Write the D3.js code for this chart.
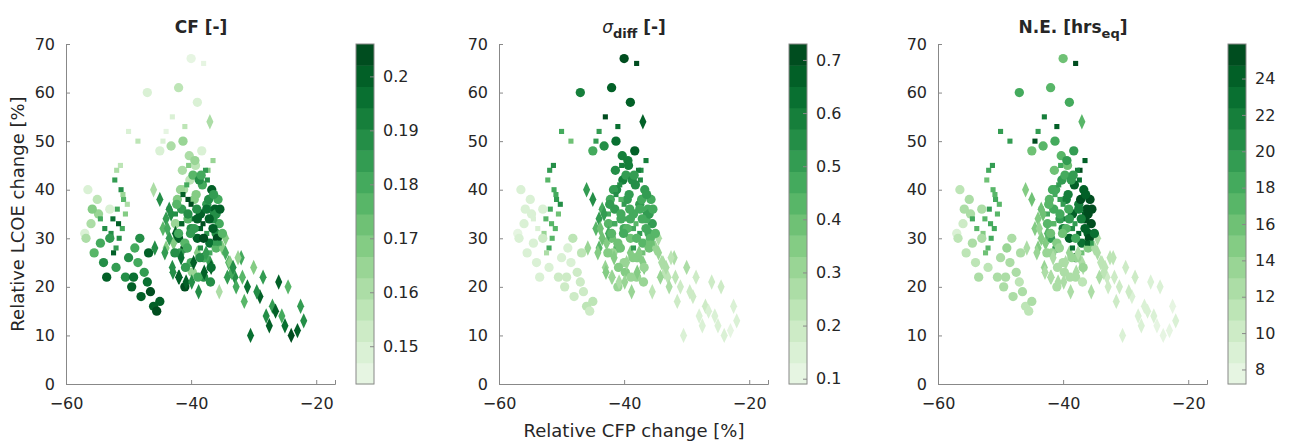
<!DOCTYPE html>
<html>
<head>
<meta charset="utf-8">
<script src="https://cdn.jsdelivr.net/npm/d3@7"></script>
<style>
  body { margin: 0; background: #fff; }
  text { font-family: "DejaVu Sans", sans-serif; fill: #262626; }
</style>
</head>
<body>
<div id="chart"></div>
<script>
// relative CFP change [%], relative LCOE change [%], marker, and the three colour variables
const relCfp = [
  -52,-51.5,-51,-52.5,-51.8,-50.8,-51.2,-52.2,-50.5,-51.6,-52.8,-50.2,-51.9,-50.9,-52.4,-51.3,
  -57,-56,-55.5,-54.5,-54,-53.5,-53,-52,-50.5,-49.5,-48.5,-48,-47,-46.5,-46,-45.5,-45,-47.5,-49,-50,-55,-53,-56.5,-54.8,
  -42,-41,-40,-39,-38,-37,-36,-35.5,-41.5,-40.5,-39.5,-38.5,-37.5,-36.5,-42.5,-41.2,-40.2,-39.2,-38.2,-37.2,-36.2,-35.8,
  -43,-42,-41,-40,-39,-38,-37,-36,-40.8,-39.8,-38.8,-37.8,-36.8,-41.8,-42.8,-39.3,-38.3,-37.3,-40.3,-41.3,
  -43.5,-42.5,-41.5,-40.5,-39.5,-38.5,-37.5,-36.6,
  -47,-44,-43,-42,-40,-39,-38,-37,-45,-41,-36.5,-44.5,-43.2,-48.5,-50,
  -45,-44,-43.5,-42.5,-44.5,-46,
  -35,-34,-33,-32,-31,-30,-29,-28,-27,-26,-25,-24,-23,-22,-33.5,-31.5,-29.5,-27.5,-25.5,-30.5,-28.5,-26.5,-32.5,-34.5,-35.5,-24.5,-22.5,
  -42,-41.5,-41,-40.5,-40,-39.5,-39,-38.5,-38,-37.5,-37,-36.5,-36,-35.5,-35,
  -42.2,-41.7,-40.7,-39.7,-38.7,-37.7,-36.7,-35.7,-41.4,-40.4,-39.4,-38.4,-37.4,-36.4,-35.4,
  -43.5,-42.6,-41.6,-40.6,-39.6,-38.6,-37.6,-36.8,-42.9,-41.9,-40.9,-39.9,-38.9,-37.9,-36.9,
  -44,-43.2,-42.3,-41.3,-40.1,-39.1,-38.1,-37.1,-36.1,-34.5,-33.8,-34.2,-33.3,-32.8,-31.8,
  -54.5,-53.8,-55.8,-56.8,-48.2,-46.8,-45.8,-44.2,-43.8,-49.2
];
const relLcoe = [
  28,30,32,34,36,38,40,42,35,33,31,37,44,39,27,45,
  31,33,27,29,25,22,36,24,22,20,25,18,21,19,16,15,17,23,28,26,38,30,40,35,
  30,28,32,30,26,29,31,33,36,34,38,35,37,34,33,40,42,39,41,38,36,30,
  24,22,20,25,27,22,25,28,21,23,19,26,24,27,29,45,48,44,47,50,
  36,35,33,38,34,32,31,35,
  60,52,55,61,67,58,66,54,48,53,46,50,49,50,52,
  38,34,36,31,32,40,
  28,25,22,26,20,24,18,14,16,21,12,10,11,13,23,17,19,12,14,10,22,15,26,30,19,20,16,
  31,33,29,35,37,32,34,28,30,36,27,32,35,29,31,
  38,40,41,43,42,44,40,38,44,45,46,43,42,39,36,
  30,27,26,28,25,26,27,24,23,22,24,21,22,23,21,
  28,35,37,39,31,36,33,34,29,27,25,22,24,20,22,
  34,32,36,30,30,27,28,27,32,22
];
const markerShape = [
  "s","s","s","s","s","s","s","s","s","s","s","s","s","s","s","s",
  "c","c","c","c","c","c","c","c","c","c","c","c","c","c","c","c","c","c","c","c","c","c","c","c",
  "c","c","c","c","c","c","c","c","c","c","c","c","c","c","c","c","c","c","c","c","c","c",
  "d","d","c","c","d","c","d","c","d","c","d","c","d","c","d","c","c","s","c","c",
  "s","s","s","s","s","s","s","s",
  "c","s","s","c","c","c","s","d","c","s","s","s","c","s","s",
  "d","d","d","d","d","d",
  "d","d","d","d","d","d","d","d","d","d","d","d","d","d","d","d","d","d","d","d","d","d","d","d","d","d","d",
  "c","s","c","c","s","c","c","s","c","c","s","c","c","s","c",
  "c","c","s","c","c","s","c","c","c","s","c","c","s","c","c",
  "d","c","d","c","d","c","d","c","d","d","c","d","c","d","c",
  "d","d","c","s","c","c","s","c","s","d","d","d","d","d","d",
  "s","s","c","c","c","c","d","d","d","c"
];
const cfValues = [
  0.185,0.19,0.18,0.195,0.18,0.175,0.19,0.185,0.17,0.2,0.19,0.16,0.16,0.165,0.2,0.155,
  0.15,0.16,0.175,0.18,0.19,0.2,0.15,0.185,0.19,0.2,0.18,0.2,0.195,0.205,0.2,0.205,0.2,0.185,0.18,0.19,0.155,0.185,0.15,0.165,
  0.2,0.205,0.19,0.2,0.205,0.195,0.19,0.18,0.185,0.175,0.17,0.2,0.185,0.19,0.165,0.16,0.155,0.17,0.18,0.19,0.2,0.205,
  0.19,0.2,0.205,0.18,0.17,0.19,0.185,0.175,0.2,0.165,0.19,0.18,0.2,0.185,0.17,0.155,0.15,0.17,0.16,0.165,
  0.2,0.19,0.18,0.205,0.195,0.2,0.185,0.19,
  0.15,0.145,0.15,0.155,0.145,0.15,0.145,0.16,0.15,0.155,0.165,0.15,0.16,0.155,0.15,
  0.19,0.185,0.19,0.2,0.175,0.16,
  0.17,0.175,0.19,0.18,0.195,0.17,0.2,0.19,0.185,0.2,0.195,0.205,0.2,0.19,0.18,0.175,0.19,0.2,0.18,0.195,0.185,0.2,0.165,0.17,0.16,0.175,0.185,
  0.18,0.2,0.175,0.19,0.205,0.185,0.2,0.19,0.205,0.195,0.18,0.2,0.19,0.185,0.175,
  0.17,0.165,0.18,0.175,0.19,0.185,0.2,0.18,0.16,0.17,0.165,0.18,0.19,0.185,0.2,
  0.185,0.19,0.195,0.18,0.2,0.19,0.185,0.195,0.19,0.2,0.185,0.19,0.18,0.2,0.19,
  0.17,0.19,0.175,0.2,0.185,0.19,0.205,0.2,0.185,0.18,0.17,0.185,0.19,0.18,0.175,
  0.18,0.19,0.17,0.16,0.19,0.2,0.19,0.185,0.18,0.195
];
const sigmaValues = [
  0.45,0.44,0.43,0.42,0.45,0.5,0.46,0.44,0.38,0.42,0.3,0.55,0.52,0.48,0.28,0.55,
  0.12,0.13,0.14,0.15,0.14,0.16,0.15,0.14,0.17,0.18,0.16,0.19,0.2,0.18,0.21,0.2,0.22,0.17,0.15,0.16,0.14,0.18,0.13,0.15,
  0.4,0.42,0.45,0.38,0.35,0.44,0.48,0.5,0.5,0.47,0.52,0.45,0.5,0.46,0.42,0.55,0.58,0.5,0.55,0.48,0.45,0.42,
  0.3,0.28,0.3,0.32,0.35,0.3,0.34,0.38,0.28,0.33,0.3,0.36,0.33,0.32,0.35,0.6,0.65,0.55,0.6,0.62,
  0.45,0.48,0.5,0.42,0.47,0.45,0.5,0.52,
  0.6,0.5,0.7,0.65,0.7,0.68,0.72,0.65,0.45,0.62,0.6,0.5,0.55,0.4,0.45,
  0.55,0.5,0.48,0.45,0.42,0.5,
  0.3,0.25,0.22,0.28,0.2,0.25,0.18,0.15,0.17,0.2,0.14,0.13,0.12,0.15,0.22,0.2,0.18,0.14,0.16,0.13,0.2,0.15,0.24,0.28,0.22,0.17,0.14,
  0.42,0.45,0.4,0.47,0.5,0.44,0.46,0.52,0.43,0.48,0.38,0.45,0.5,0.41,0.44,
  0.48,0.52,0.55,0.5,0.53,0.57,0.5,0.46,0.55,0.6,0.58,0.52,0.55,0.5,0.45,
  0.4,0.35,0.33,0.37,0.32,0.34,0.36,0.3,0.33,0.31,0.34,0.3,0.32,0.35,0.3,
  0.42,0.5,0.52,0.55,0.45,0.48,0.44,0.45,0.4,0.3,0.28,0.32,0.27,0.25,0.24,
  0.16,0.15,0.14,0.13,0.22,0.24,0.3,0.35,0.38,0.17
];
const neValues = [
  17,18,18,17,19,18,17,16,17,18,15,17,18,17,16,19,
  9,10,11,12,11,12,13,11,12,13,12,12,11,12,11,11,12,13,14,13,12,12,11,12,
  19,20,22,24,25,23,24,25,18,20,22,24,22,25,17,18,19,22,24,25,26,25,
  14,13,12,13,14,12,13,15,12,13,12,14,13,14,15,16,20,25,17,18,
  19,18,17,20,22,21,24,24,
  18,19,22,17,16,18,25,17,16,24,24,25,17,19,20,
  16,15,16,17,15,15,
  12,11,10,11,10,10,9,9,9,9,8,8,8,9,11,10,10,9,9,9,10,9,11,12,12,9,8,
  16,17,15,18,20,17,19,23,18,22,16,24,25,19,23,
  17,18,19,18,19,22,24,25,16,18,19,20,23,24,25,
  15,14,13,14,13,14,13,14,13,12,13,12,13,12,11,
  15,16,17,18,16,18,20,22,24,12,11,12,11,10,10,
  18,17,12,11,13,12,13,14,14,12
];
const colorDomains = [[0.143, 0.206], [0.09, 0.73], [7.2, 25.9]];
const colorTicks = [[0.15, 0.16, 0.17, 0.18, 0.19, 0.2], [0.1, 0.2, 0.3, 0.4, 0.5, 0.6, 0.7], [8, 10, 12, 14, 16, 18, 20, 22, 24]];
const xTicks = [-60, -40, -20];
const yTicks = [0, 10, 20, 30, 40, 50, 60, 70];

const valueSets = [cfValues, sigmaValues, neValues];
const points = relCfp.map((x, i) => ({ x, y: relLcoe[i], m: markerShape[i], vals: valueSets.map(v => v[i]) }))
  .filter(d => d.y !== undefined && d.m !== undefined && d.vals.every(v => v !== undefined));

const W = 1290, H = 446;
const svg = d3.select("#chart").append("svg").attr("width", W).attr("height", H);
const plotTop = 44, plotBottom = 384, nLevels = 16;
const panelLeft = [66, 499, 938];

panelLeft.forEach((left, p) => {
  const x = d3.scaleLinear().domain([-60, -17]).range([left, left + 269]);
  const y = d3.scaleLinear().domain([0, 70]).range([plotBottom, plotTop]);
  const [lo, hi] = colorDomains[p];
  const step = (hi - lo) / nLevels;
  const level = v => Math.max(0, Math.min(nLevels - 1, Math.floor((v - lo) / step)));
  const shade = i => d3.interpolateGreens(0.08 + 0.92 * (i + 0.5) / nLevels);

  const g = svg.append("g");
  g.append("g").selectAll("path").data(points).join("path")
    .attr("d", d => d3.symbol(d.m === "s" ? d3.symbolSquare : d.m === "d" ? d3.symbolDiamond : d3.symbolCircle, d.m === "s" ? 26 : 68)())
    .attr("fill", d => shade(level(d.vals[p])))
    .attr("transform", d => `translate(${x(d.x)},${y(d.y)})` + (d.m === "d" ? " scale(0.8,1)" : ""));

  const xa = g.append("g").attr("transform", `translate(0,${plotBottom})`)
    .call(d3.axisBottom(x).tickValues(xTicks).tickSize(-4).tickPadding(14));
  const ya = g.append("g").attr("transform", `translate(${left},0)`)
    .call(d3.axisLeft(y).tickValues(yTicks).tickSize(-4).tickPadding(11));
  [xa, ya].forEach(a => {
    a.selectAll("path,line").attr("stroke", "#888");
    a.selectAll("text").style("font-size", "16px").attr("fill", "#262626");
  });

  // title
  const t = g.append("text").attr("x", left + 135).attr("y", 33).attr("text-anchor", "middle")
    .style("font-size", "17px").style("font-weight", "bold");
  if (p === 0) t.text("CF [-]");
  if (p === 1) {
    t.append("tspan").text("σ").style("font-style", "italic").style("font-weight", "normal");
    t.append("tspan").text("diff").attr("dy", 5).style("font-size", "13px");
    t.append("tspan").text(" [-]").attr("dy", -5);
  }
  if (p === 2) {
    t.append("tspan").text("N.E. [hrs");
    t.append("tspan").text("eq").attr("dy", 5).style("font-size", "13px");
    t.append("tspan").text("]").attr("dy", -5);
  }

  // colorbar
  const cbx = left + 290, cbw = 18;
  const cy = d3.scaleLinear().domain([lo, hi]).range([plotBottom, plotTop]);
  g.append("g").selectAll("rect").data(d3.range(nLevels)).join("rect")
    .attr("x", cbx).attr("width", cbw)
    .attr("y", i => cy(lo + (i + 1) * step)).attr("height", i => cy(lo + i * step) - cy(lo + (i + 1) * step) + 0.5)
    .attr("fill", shade);
  g.append("rect").attr("x", cbx).attr("y", plotTop).attr("width", cbw).attr("height", plotBottom - plotTop)
    .attr("fill", "none").attr("stroke", "#888");
  const ca = g.append("g").attr("transform", `translate(${cbx + cbw},0)`)
    .call(d3.axisRight(cy).tickValues(colorTicks[p]).tickSize(-4).tickPadding(9).tickFormat(d3.format("")));
  ca.select(".domain").remove();
  ca.selectAll("line").attr("stroke", "#888");
  ca.selectAll("text").style("font-size", "16px").attr("fill", "#262626");
});

svg.append("text").attr("x", 24).attr("y", 214).attr("text-anchor", "middle")
  .attr("transform", "rotate(-90,24,214)").style("font-size", "18px").text("Relative LCOE change [%]");
svg.append("text").attr("x", 634).attr("y", 437).attr("text-anchor", "middle")
  .style("font-size", "18px").text("Relative CFP change [%]");
</script>
</body>
</html>
